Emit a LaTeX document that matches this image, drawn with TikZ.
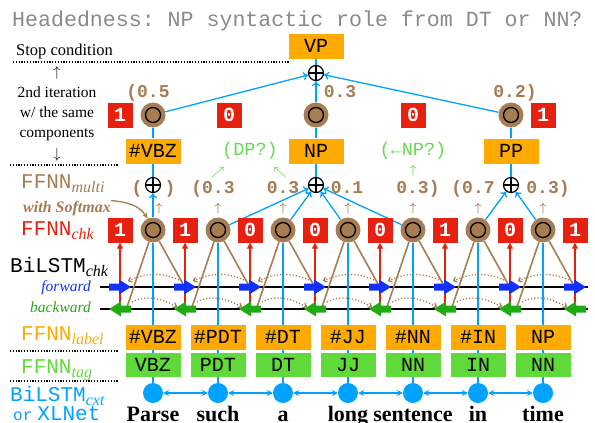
\documentclass[tikz,border=0pt]{standalone}
\usepackage{fontspec}
\setmainfont{Liberation Serif}
\setmonofont{Liberation Mono}
\usetikzlibrary{arrows.meta,backgrounds}

\definecolor{ringbrown}{RGB}{166,124,82}
\definecolor{labelorange}{RGB}{255,170,0}
\definecolor{taggreen}{RGB}{96,218,58}
\definecolor{chkred}{RGB}{232,32,16}
\definecolor{cxtblue}{RGB}{0,162,255}
\definecolor{fwdblue}{RGB}{20,48,255}
\definecolor{bwdgreen}{RGB}{34,170,20}
\definecolor{hintgreen}{RGB}{102,218,80}
\definecolor{titlegray}{RGB}{138,138,138}

\newcommand{\subtag}[1]{\raisebox{-4pt}{\fontsize{16}{16}\rmfamily\itshape #1}}

\begin{document}
\begin{tikzpicture}[x=1pt, y=-1pt,
    labelbox/.style={rectangle, fill=labelorange, minimum width=55pt, minimum height=25pt, inner sep=0pt, font=\fontsize{20}{20}\ttfamily},
    tagbox/.style={labelbox, fill=taggreen, minimum height=24pt},
    chkbox/.style={rectangle, fill=chkred, minimum size=25pt, inner sep=0pt, text=white, font=\fontsize{20}{20}\ttfamily\bfseries},
    spanring/.style={circle, fill=ringbrown, minimum size=25pt, inner sep=0pt,
        path picture={\draw[line width=1.3pt] (path picture bounding box.center) circle[radius=7.5pt];
                      \fill (path picture bounding box.center) circle[radius=1.7pt];}},
    sumnode/.style={circle, draw, line width=1.2pt, fill=white, minimum size=15pt, inner sep=0pt,
        path picture={\draw[line width=1.2pt] (path picture bounding box.north) -- (path picture bounding box.south)
                      (path picture bounding box.west) -- (path picture bounding box.east);}},
    worddot/.style={circle, fill=cxtblue, minimum size=20pt, inner sep=0pt},
    word/.style={anchor=base, inner sep=0pt, font=\fontsize{22}{22}\bfseries},
    prob/.style={anchor=base, inner sep=0pt, text=ringbrown, font=\fontsize{18}{18}\ttfamily\bfseries},
    probup/.style={inner sep=0pt, text=ringbrown, font=\fontsize{13}{13}\selectfont\boldmath},
    hint/.style={inner sep=0pt, text=hintgreen, font=\fontsize{18.5}{18.5}\ttfamily},
    hintup/.style={inner sep=0pt, text=hintgreen, font=\fontsize{12}{12}\selectfont\boldmath},
    side/.style={inner sep=0pt, font=\fontsize{16.5}{20}\selectfont},
    sidett/.style={anchor=base west, inner sep=0pt, font=\fontsize{21}{21}\ttfamily},
    sepline/.style={line width=1.2pt, dash pattern=on 1.2pt off 1.6pt},
    cxtline/.style={cxtblue, line width=1.3pt},
    feed/.style={cxtline, -{To[length=5pt, width=8pt]}},
    spanline/.style={ringbrown, line width=1.6pt},
    diffarc/.style={ringbrown, line width=1.3pt, dash pattern=on 1.2pt off 2pt, -{To[length=4pt, width=6pt]}},
    fwdblock/.style={fill=fwdblue},
    bwdblock/.style={fill=bwdgreen},
    chkarrow/.style={chkred, line width=1.4pt, -{Triangle[length=6pt, width=6pt]}},
    softarrow/.style={ringbrown, line width=1.3pt, -{Stealth[length=6pt, width=5pt]}}
]
    \useasboundingbox (0,0) rectangle (595,423);

    % Title
    \node[anchor=base west, inner sep=0pt, text=titlegray, font=\fontsize{21.6}{22}\ttfamily] (title) at (12,27)
        {Headedness: NP syntactic role from DT or NN?};

    % Words, tags, labels, span scores
    \foreach \w/\t/\l [count=\i] in {Parse/VBZ/\#VBZ, such/PDT/\#PDT, a/DT/\#DT, long/JJ/\#JJ,
                                    sentence/NN/\#NN, in/IN/\#IN, time/NN/NP} {
        \node[word] (word\i) at ({88+65*\i}, 421) {\w};
        \node[worddot] (dot\i) at ({88+65*\i}, 393) {};
        \node[tagbox] (tag\i) at ({88+65*\i}, 365) {\t};
        \node[labelbox] (lab\i) at ({88+65*\i}, 337) {\l};
        \node[spanring] (ring\i) at ({88+65*\i}, 230) {};
    }
    \foreach \v [count=\j from 0] in {1,1,0,0,0,1,0,1} {
        \node[chkbox] (chk\j) at ({120+65*\j}, 230) {\v};
        \coordinate (fw\j) at ({120+65*\j}, 287);
        \coordinate (bw\j) at ({120+65*\j}, 309);
    }
    \coordinate (fwl) at (100,287);
    \coordinate (fwr) at (588,287);
    \coordinate (bwl) at (100,309);
    \coordinate (bwr) at (588,309);
    \foreach \x [count=\i] in {159,218,283,348,413,478,543}
        \node[probup] (up\i) at (\x,208) {$\uparrow$};

    % BiLSTM_chk block arrows
    \foreach \j in {0,...,7} {
        \fill[fwdblock] ([shift={(-11pt,3.5pt)}]fw\j) -- ++(10pt,0pt) -- ++(0pt,4pt) -- ++(12pt,-7.5pt)
            -- ++(-12pt,-7.5pt) -- ++(0pt,4pt) -- ++(-10pt,0pt) -- cycle;
        \fill[bwdblock] ([shift={(11pt,3.5pt)}]bw\j) -- ++(-10pt,0pt) -- ++(0pt,4pt) -- ++(-12pt,-7.5pt)
            -- ++(12pt,-7.5pt) -- ++(0pt,4pt) -- ++(10pt,0pt) -- cycle;
    }

    % First iteration: merging spans
    \node[sumnode] (sumV) at (153,185) {};
    \node[sumnode] (sumNP) at (316,185) {};
    \node[sumnode] (sumPP) at (511,185) {};
    \node[prob] (pl) at (137,193) {(};
    \node[prob] (pr) at (170,193) {)};
    \node[prob] (p2) at (213,193) {(0.3};
    \node[prob] (p3) at (283,193) {0.3};
    \node[prob] (p4) at (347,193) {0.1};
    \node[prob] (p5) at (418,193) {0.3)};
    \node[prob] (p6) at (473,193) {(0.7};
    \node[prob] (p7) at (548,193) {0.3)};
    \node[labelbox] (hdVBZ) at (153,151) {\#VBZ};
    \node[labelbox] (hdNP) at (316,151) {NP};
    \node[labelbox] (hdPP) at (511,151) {PP};
    \node[hint] (dp) at (250,151) {(DP?)};
    \node[hint] (np) at (413,151) {(←NP?)};
    \node[hintup] (dpa) at (218,172) {$\nearrow$};
    \node[hintup] (dpb) at (280,172) {$\nwarrow$};
    \node[hintup] (npa) at (413,170) {$\uparrow$};

    % Second iteration
    \node[spanring] (top1) at (153,115) {};
    \node[spanring] (top2) at (316,115) {};
    \node[spanring] (top3) at (511,115) {};
    \node[chkbox] (tchk1) at (120,115) {1};
    \node[chkbox] (tchk2) at (229,115) {0};
    \node[chkbox] (tchk3) at (413,115) {0};
    \node[chkbox] (tchk4) at (543,115) {1};
    \node[prob] (q1) at (148,97) {(0.5};
    \node[prob] (q2) at (340,97) {0.3};
    \node[prob] (q3) at (515,97) {0.2)};
    \node[sumnode] (sumVP) at (316,73) {};
    \node[labelbox] (hdVP) at (316,46) {VP};

    % Left side: component names
    \node[side, anchor=base west] (stopc) at (16,55) {Stop condition};
    \node[side, font=\fontsize{14}{14}\selectfont] (arrup) at (57,73) {$\uparrow$};
    \node[side, align=center, font=\fontsize{15.5}{20}\selectfont] (iter) at (57,114) {2nd iteration\\w/ the same\\components};
    \node[side, font=\fontsize{14}{14}\selectfont] (arrdown) at (57,155) {$\downarrow$};
    \node[sidett, text=ringbrown] (lmulti) at (21,188) {FFNN\subtag{multi}};
    \node[side, anchor=base west, text=ringbrown, font=\fontsize{16}{16}\bfseries\itshape] (lsoft) at (23,212) {with Softmax};
    \node[sidett, text=chkred] (lchk) at (21,235) {FFNN\subtag{chk}};
    \node[sidett] (lbichk) at (10,272) {BiLSTM\subtag{chk}};
    \node[side, anchor=base east, text=fwdblue, font=\fontsize{15.5}{16}\itshape] (lfwd) at (91,291) {forward};
    \node[side, anchor=base east, text=bwdgreen, font=\fontsize{15.5}{16}\itshape] (lbwd) at (91,312) {backward};
    \node[sidett, text=labelorange] (llabel) at (21,340) {FFNN\subtag{label}};
    \node[sidett, text=taggreen] (ltag) at (21,373) {FFNN\subtag{tag}};
    \node[sidett, text=cxtblue] (lcxt) at (10,401) {BiLSTM\subtag{cxt}};
    \node[sidett, text=cxtblue] (lxl) at (13,420) {{\fontsize{16}{16}\selectfont or}\hspace{5pt}XLNet};
    \coordinate (s1a) at (13,62);
    \coordinate (s1b) at (289,62);
    \coordinate (s2a) at (10,165);
    \coordinate (s2b) at (118,165);
    \coordinate (s3a) at (10,351);
    \coordinate (s3b) at (118,351);
    \coordinate (s4a) at (10,381);
    \coordinate (s4b) at (118,381);
    \draw[sepline] (s1a) -- (s1b);
    \draw[sepline] (s2a) -- (s2b);
    \draw[sepline] (s3a) -- (s3b);
    \draw[sepline] (s4a) -- (s4b);
    \draw[softarrow] (lsoft.north east) .. controls +(20,2) and +(-8,-12) .. (ring1.115);

    \begin{scope}[on background layer]
        % span encoder
        \draw[line width=1.2pt] (fwl) -- (fwr);
        \draw[line width=1.2pt] (bwl) -- (bwr);
        % context encoder
        \foreach \i in {1,...,7}
            \draw[cxtline] (dot\i) -- (ring\i);
        \foreach \i [evaluate=\i as \k using int(\i+1)] in {1,...,6}
            \draw[cxtline, {Stealth[length=6pt, width=6pt]}-{Stealth[length=6pt, width=6pt]}] (dot\i) -- (dot\k);
        \foreach \j in {0,...,7}
            \draw[chkarrow] (bw\j) -- (chk\j);
        \foreach \i [evaluate=\i as \k using int(\i-1)] in {1,...,7} {
            \draw[spanline] (ring\i) -- ([xshift=7pt, yshift=2pt]bw\k);
            \draw[spanline] (ring\i) -- ([xshift=-2pt, yshift=3pt]fw\i);
        }
        \foreach \j [evaluate=\j as \k using int(\j+1)] in {0,...,6} {
            \draw[diffarc] ([xshift=-6pt, yshift=7pt]fw\k) .. controls +(-18,-8) and +(18,-8) .. ([xshift=8pt, yshift=6pt]fw\j);
            \draw[diffarc] ([xshift=12pt, yshift=7pt]bw\j) .. controls +(15,-8) and +(-15,-8) .. ([xshift=-8pt, yshift=2pt]bw\k);
        }
        % merging
        \draw[feed] (ring1) -- (sumV);
        \foreach \i in {2,...,5}
            \draw[feed] (ring\i) -- (sumNP);
        \draw[feed] (ring6) -- (sumPP);
        \draw[feed] (ring7) -- (sumPP);
        \draw[cxtline] (sumV) -- (hdVBZ);
        \draw[cxtline] (sumNP) -- (hdNP);
        \draw[cxtline] (sumPP) -- (hdPP);
        \draw[cxtline] (hdVBZ) -- (top1);
        \draw[cxtline] (hdNP) -- (top2);
        \draw[cxtline] (hdPP) -- (top3);
        \draw[feed] (top1) -- (sumVP);
        \draw[feed] (top2) -- (sumVP);
        \draw[feed] (top3) -- (sumVP);
        \draw[cxtline] (sumVP) -- (hdVP);
    \end{scope}
\end{tikzpicture}
\end{document}
